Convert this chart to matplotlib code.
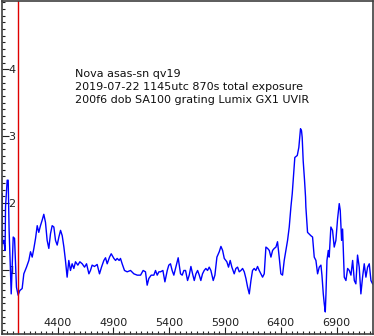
import matplotlib
matplotlib.use("Agg")
from matplotlib import pyplot as plt
from matplotlib.ticker import MultipleLocator

# wavelength (Angstrom) and relative flux of the spectrum
wavelength = [
    3901, 3904, 3907, 3919, 3930, 3934, 3949, 3958, 3966, 3985,
    3997, 4003, 4015, 4032, 4047, 4062, 4083, 4098, 4122, 4143,
    4158, 4173, 4188, 4203, 4218, 4232, 4247, 4262, 4277, 4292,
    4307, 4322, 4337, 4352, 4367, 4382, 4397, 4412, 4427, 4442,
    4457, 4471, 4486, 4501, 4516, 4531, 4546, 4561, 4582, 4600,
    4621, 4642, 4660, 4681, 4695, 4710, 4731, 4755, 4776, 4794,
    4815, 4830, 4845, 4866, 4881, 4905, 4920, 4934, 4952, 4964,
    4979, 5000, 5024, 5054, 5084, 5114, 5144, 5167, 5188, 5203,
    5218, 5239, 5263, 5278, 5293, 5308, 5323, 5344, 5362, 5383,
    5397, 5412, 5427, 5442, 5457, 5481, 5502, 5517, 5532, 5547,
    5565, 5580, 5595, 5610, 5625, 5640, 5655, 5670, 5684, 5699,
    5714, 5729, 5744, 5759, 5774, 5795, 5810, 5828, 5849, 5864,
    5879, 5894, 5917, 5932, 5947, 5962, 5983, 5998, 6013, 6028,
    6043, 6058, 6073, 6088, 6103, 6118, 6133, 6147, 6162, 6177,
    6192, 6207, 6222, 6237, 6252, 6267, 6282, 6297, 6312, 6327,
    6342, 6357, 6371, 6386, 6401, 6416, 6431, 6446, 6461, 6476,
    6491, 6503, 6526, 6548, 6562, 6577, 6586, 6592, 6601, 6613,
    6622, 6625, 6640, 6670, 6685, 6700, 6715, 6730, 6745, 6760,
    6769, 6781, 6790, 6799, 6805, 6814, 6826, 6834, 6849, 6864,
    6879, 6894, 6909, 6924, 6933, 6945, 6954, 6969, 6984, 6999,
    7014, 7029, 7044, 7059, 7073, 7088, 7103, 7118, 7133, 7148,
    7163, 7178, 7193, 7208, 7223,
]
flux = [
    2.10, 2.14, 1.39, 1.44, 1.29, 1.94, 2.34, 2.34, 1.60, 0.64,
    1.19, 1.49, 1.47, 0.74, 0.62, 0.69, 0.72, 0.94, 1.04, 1.14,
    1.27, 1.19, 1.32, 1.47, 1.66, 1.56, 1.66, 1.74, 1.83, 1.71,
    1.44, 1.32, 1.54, 1.66, 1.64, 1.44, 1.37, 1.49, 1.59, 1.51,
    1.34, 1.14, 0.89, 1.14, 0.99, 1.09, 1.02, 1.12, 1.07, 1.12,
    1.09, 1.04, 1.09, 0.94, 0.99, 1.07, 1.05, 1.08, 0.94, 1.04,
    1.14, 1.18, 1.09, 1.19, 1.24, 1.17, 1.14, 1.17, 1.14, 1.17,
    1.09, 0.99, 0.97, 0.99, 0.94, 0.92, 0.92, 0.99, 0.97, 0.77,
    0.87, 0.92, 0.92, 0.99, 0.92, 0.97, 0.97, 0.99, 0.82, 0.99,
    1.07, 1.09, 0.99, 0.92, 1.02, 1.18, 0.94, 0.92, 0.99, 0.99,
    0.84, 0.92, 1.05, 0.94, 0.84, 0.94, 0.99, 0.92, 0.84, 0.94,
    0.99, 1.02, 0.99, 1.04, 0.99, 0.84, 0.92, 1.19, 1.27, 1.35,
    1.29, 1.17, 1.12, 1.04, 1.14, 1.04, 0.94, 1.02, 1.04, 0.97,
    0.99, 1.02, 0.97, 0.87, 0.74, 0.64, 0.84, 0.99, 1.02, 0.99,
    1.05, 0.99, 0.94, 0.89, 0.94, 1.34, 1.32, 1.29, 1.19, 1.29,
    1.32, 1.34, 1.42, 1.19, 0.94, 0.92, 1.14, 1.29, 1.44, 1.64,
    1.94, 2.14, 2.68, 2.71, 2.83, 3.11, 3.08, 2.98, 2.63, 2.34,
    2.09, 1.94, 1.56, 1.51, 1.49, 1.19, 1.14, 0.94, 1.04, 1.07,
    0.92, 0.64, 0.49, 0.37, 0.64, 1.14, 1.29, 1.19, 1.64, 1.59,
    1.34, 1.44, 1.76, 1.99, 1.89, 1.44, 1.61, 0.89, 0.84, 1.02,
    0.99, 0.92, 1.14, 0.84, 0.79, 1.22, 1.04, 0.64, 0.89, 1.09,
    0.89, 1.04, 1.09, 0.84, 0.79,
]
marker_wavelength = 4050
x_ticks = [4400, 4900, 5400, 5900, 6400, 6900]
y_ticks = [1, 2, 3, 4]
caption = ("Nova asas-sn qv19\n"
           "2019-07-22 1145utc 870s total exposure\n"
           "200f6 dob SA100 grating Lumix GX1 UVIR")

fig = plt.figure(figsize=(3.74, 3.36), dpi=100)
ax = fig.add_axes([1.5 / 374, 2 / 336, 371 / 374, 333 / 336])

ax.plot(wavelength, flux, color='#0000ff', lw=1.0)
ax.axvline(marker_wavelength, color='#e00000', lw=1.0)

ax.set_xlim(3898, 7222)
ax.set_ylim(0.04, 5.02)

ax.set_xticks(x_ticks)
ax.set_yticks(y_ticks)
ax.xaxis.set_minor_locator(MultipleLocator(50))
ax.yaxis.set_minor_locator(MultipleLocator(0.1))
ax.tick_params(axis='both', which='both', direction='in', colors='#202020',
               labelsize=8, width=0.8)
ax.tick_params(axis='both', which='major', length=5)
ax.tick_params(axis='both', which='minor', length=2.5)
ax.tick_params(axis='y', pad=-5)
ax.tick_params(axis='x', pad=-4)
for lab in ax.get_yticklabels():
    lab.set_horizontalalignment('left')
for lab in ax.get_xticklabels():
    lab.set_verticalalignment('bottom')

for side in ax.spines.values():
    side.set_color('#404040')
    side.set_linewidth(1.2)

ax.text(0.198, 0.797, caption, transform=ax.transAxes, fontsize=8,
        va='top', ha='left', color='#101010', linespacing=1.38)

fig.savefig('out.png', dpi=100)
